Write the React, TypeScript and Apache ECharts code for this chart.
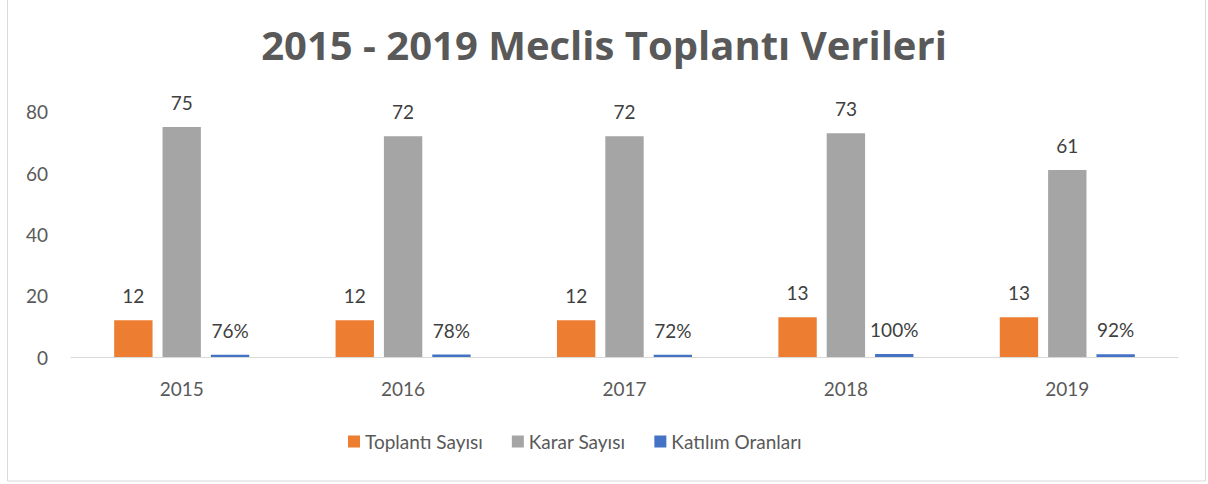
import React, { useEffect, useRef } from "react";
import * as echarts from "echarts";

const years = ["2015", "2016", "2017", "2018", "2019"];
const toplantiSayisi = [12, 12, 12, 13, 13];
const kararSayisi = [75, 72, 72, 73, 61];
const katilimOranlari = [0.76, 0.78, 0.72, 1.0, 0.92];
const yTicks = { min: 0, max: 80, interval: 20 };

const FONT = "Lato";

export default function App() {
  const ref = useRef<HTMLDivElement>(null);
  useEffect(() => {
    document.body.style.margin = "0";
    const chart = echarts.init(ref.current!, null, { renderer: "svg" });
    const labelStyle = {
      show: true,
      position: "top" as const,
      distance: 15,
      fontSize: 19,
      color: "#404040",
      fontFamily: FONT,
    };
    chart.setOption({
      animation: false,
      title: {
        text: "2015 - 2019 Meclis Toplantı Verileri",
        left: "center",
        top: 19,
        textStyle: {
          fontFamily: "Open Sans",
          fontWeight: "bold",
          fontSize: 40,
          color: "#595959",
        },
      },
      graphic: [
        {
          type: "rect",
          shape: { x: 7.5, y: -5, width: 1198, height: 486 },
          style: { fill: "none", stroke: "#d9d9d9", lineWidth: 1 },
          silent: true,
        },
      ],
      legend: {
        bottom: 28,
        left: 343,
        itemWidth: 12,
        itemHeight: 12,
        itemGap: 29,
        icon: "rect",
        textStyle: { fontFamily: FONT, fontSize: 19, color: "#595959" },
        data: ["Toplantı Sayısı", "Karar Sayısı", "Katılım Oranları"],
      },
      grid: { left: 71, right: 30, top: 111.7, bottom: 127, containLabel: false },
      xAxis: {
        type: "category",
        data: years,
        axisLine: { lineStyle: { color: "#d9d9d9", width: 1 } },
        axisTick: { show: false },
        axisLabel: { fontFamily: FONT, fontSize: 19, color: "#595959", margin: 22 },
      },
      yAxis: {
        type: "value",
        min: yTicks.min,
        max: yTicks.max,
        interval: yTicks.interval,
        splitLine: { show: false },
        axisLine: { show: false },
        axisTick: { show: false },
        axisLabel: { fontFamily: FONT, fontSize: 19, color: "#595959", margin: 23 },
      },
      series: [
        {
          name: "Toplantı Sayısı",
          type: "bar",
          data: toplantiSayisi,
          itemStyle: { color: "#ED7D31" },
          barGap: "26%",
          barCategoryGap: "39%",
          label: labelStyle,
        },
        {
          name: "Karar Sayısı",
          type: "bar",
          data: kararSayisi,
          itemStyle: { color: "#A5A5A5" },
          label: labelStyle,
        },
        {
          name: "Katılım Oranları",
          type: "bar",
          data: katilimOranlari,
          itemStyle: { color: "#4472C4" },
          label: {
            ...labelStyle,
            formatter: (p: any) => Math.round(p.value * 100) + "%",
          },
        },
      ],
    });
    return () => chart.dispose();
  }, []);
  return <div ref={ref} style={{ width: 1208, height: 484 }} />;
}
